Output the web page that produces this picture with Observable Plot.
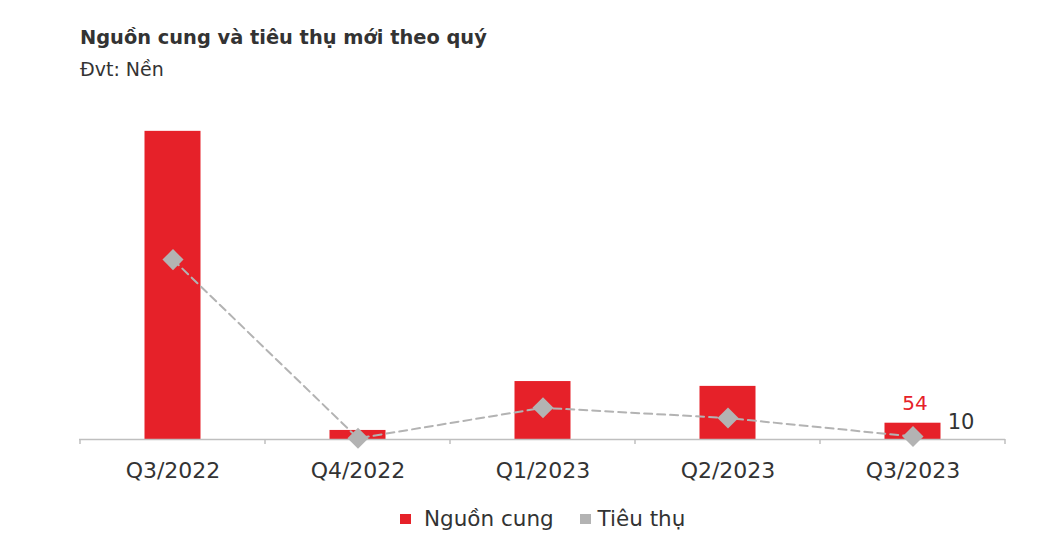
<!DOCTYPE html>
<html><head><meta charset="utf-8">
<script src="https://cdn.jsdelivr.net/npm/d3@7"></script>
<script src="https://cdn.jsdelivr.net/npm/@observablehq/plot@0.6"></script>
<style>
body{margin:0;background:#fff;font-family:"DejaVu Sans",sans-serif;color:#333;width:1040px;height:537px;overflow:hidden}
#header{position:relative;height:95px}
#title{position:absolute;left:80px;top:26px;font-size:19.4px;font-weight:700;line-height:24px;color:#333;white-space:nowrap}
#subtitle{position:absolute;left:80px;top:57px;font-size:19px;line-height:24px;color:#333;white-space:nowrap}
#chart{height:400px}
#chart svg{display:block}
#legend{position:relative;height:42px}
.item{position:absolute;top:12px;display:flex;align-items:center;font-size:21.5px;line-height:24px;color:#333;white-space:nowrap}
.sw{width:10.5px;height:10.5px;display:inline-block}
</style>
</head><body>
<div id="header">
  <div id="title">Nguồn cung và tiêu thụ mới theo quý</div>
  <div id="subtitle">Đvt: Nền</div>
</div>
<div id="chart"></div>
<div id="legend"></div>
<script>
const categories = ["Q3/2022", "Q4/2022", "Q1/2023", "Q2/2023", "Q3/2023"];
const supply = [1021, 30, 192, 176, 54];
const sales = [596, 4, 105, 71, 10];
const seriesNames = ["Nguồn cung", "Tiêu thụ"];
const seriesColors = ["#e62129", "#b3b3b3"];
const labelQuarter = "Q3/2023";
const supplyLabel = 54;
const salesLabel = 10;

const data = categories.map((c, i) => ({quarter: c, supply: supply[i], sales: sales[i]}));

const plot = Plot.plot({
  width: 1040, height: 400,
  marginLeft: 79, marginRight: 35, marginTop: 12, marginBottom: 56,
  x: {domain: categories, padding: 0, label: null},
  y: {domain: [0, 1100], axis: null},
  style: {fontFamily: '"DejaVu Sans", sans-serif', fontSize: "22px", color: "#333", background: "transparent", overflow: "visible"},
  marks: [
    Plot.barY(data, {x: "quarter", y: "supply", fill: seriesColors[0], insetLeft: 64.5, insetRight: 64.5}),
    Plot.ruleY([0], {stroke: "#bfbfbf", strokeWidth: 1.5}),
    Plot.axisX({tickSize: 0, tickPadding: 23, fontSize: 22, label: null}),
    Plot.line(data, {x: "quarter", y: "sales", stroke: seriesColors[1], strokeWidth: 2, strokeDasharray: "8,5"}),
    Plot.dot(data, {x: "quarter", y: "sales", symbol: "diamond2", r: 9.5, fill: seriesColors[1], stroke: null}),
    Plot.text([{quarter: labelQuarter, v: supplyLabel}], {x: "quarter", y: "v", text: d => String(d.v), dx: 2, dy: -20, fill: seriesColors[0], fontSize: 20}),
    Plot.text([{quarter: labelQuarter, v: salesLabel}], {x: "quarter", y: "v", text: d => String(d.v), dx: 48, dy: -14, fill: "#333", fontSize: 21})
  ]
});

// boundary tick marks between categories
const xs = plot.scale("x");
const ys = plot.scale("y");
const y0 = ys.apply(0);
const bounds = categories.map(c => xs.apply(c)).concat([xs.apply(categories[categories.length - 1]) + xs.bandwidth]);
d3.select(plot).append("g").selectAll("line").data(bounds).join("line")
  .attr("x1", d => d).attr("x2", d => d).attr("y1", y0).attr("y2", y0 + 5)
  .attr("stroke", "#bfbfbf").attr("stroke-width", 1.5);

document.getElementById("chart").appendChild(plot);

const legend = document.getElementById("legend");
const legendLeft = [400, 580];
const legendGap = [13.5, 7];
seriesNames.forEach((n, i) => {
  const it = document.createElement("div");
  it.className = "item";
  it.style.left = legendLeft[i] + "px";
  it.innerHTML = `<span class="sw" style="background:${seriesColors[i]};margin-right:${legendGap[i]}px"></span>${n}`;
  legend.appendChild(it);
});
</script>
</body></html>
